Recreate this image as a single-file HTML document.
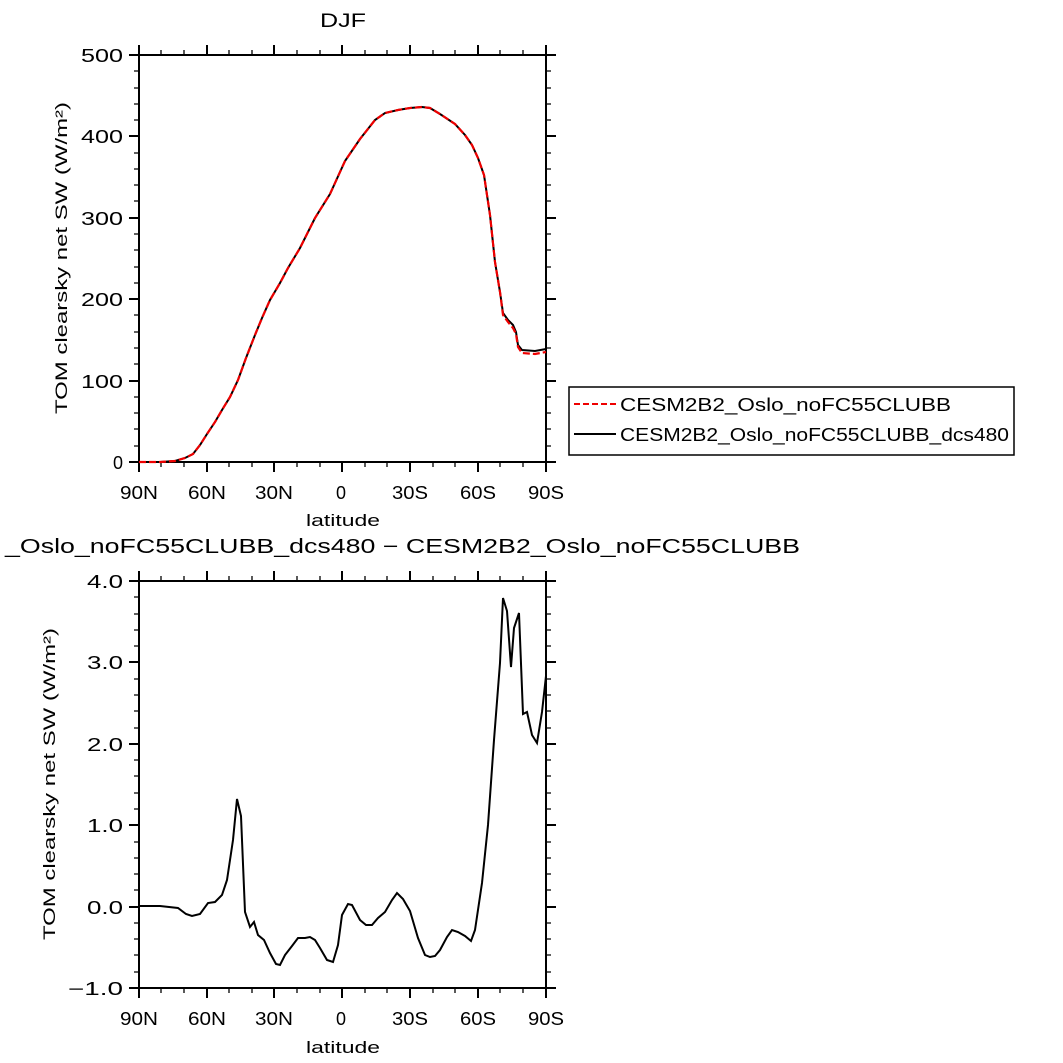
<!DOCTYPE html>
<html><head><meta charset="utf-8"><style>body{margin:0;background:#fff}svg{display:block}text{font-family:"Liberation Sans","DejaVu Sans",sans-serif;fill:#000}</style></head><body>
<svg width="1063" height="1063" viewBox="0 0 1063 1063" xmlns="http://www.w3.org/2000/svg">
<defs>
<g id="xt" stroke="#000" fill="none">
<path stroke-width="2" d="M139,0v10M207,0v10M274,0v10M342,0v10M410,0v10M478,0v10M546,0v10"/>
<path stroke-width="1.3" d="M161,0v5M184,0v5M229,0v5M252,0v5M297,0v5M320,0v5M365,0v5M387,0v5M433,0v5M455,0v5M500,0v5M523,0v5"/>
</g>
</defs>
<text x="320" y="27" font-size="19" textLength="46" lengthAdjust="spacingAndGlyphs">DJF</text>
<rect x="139" y="55" width="407" height="407" fill="none" stroke="#000" stroke-width="2"/>
<use href="#xt" transform="translate(0,462)"/>
<use href="#xt" transform="translate(0,55) scale(1,-1)"/>
<g stroke="#000" stroke-width="2">
<path d="M139,462h-10M139,381h-10M139,299h-10M139,218h-10M139,136h-10M139,55h-10M546,462h10M546,381h10M546,299h10M546,218h10M546,136h10M546,55h10"/>
</g>
<g stroke="#000" stroke-width="1.3">
<path d="M139,446h-5M139,429h-5M139,413h-5M139,397h-5M139,364h-5M139,348h-5M139,332h-5M139,315h-5M139,283h-5M139,267h-5M139,250h-5M139,234h-5M139,201h-5M139,185h-5M139,169h-5M139,153h-5M139,120h-5M139,104h-5M139,88h-5M139,71h-5
M546,446h5M546,429h5M546,413h5M546,397h5M546,364h5M546,348h5M546,332h5M546,315h5M546,283h5M546,267h5M546,250h5M546,234h5M546,201h5M546,185h5M546,169h5M546,153h5M546,120h5M546,104h5M546,88h5M546,71h5"/>
</g>
<g font-size="18" text-anchor="end">
<text x="123" y="469">0</text><text x="123" y="388" textLength="42" lengthAdjust="spacingAndGlyphs">100</text><text x="123" y="306" textLength="42" lengthAdjust="spacingAndGlyphs">200</text><text x="123" y="225" textLength="42" lengthAdjust="spacingAndGlyphs">300</text><text x="123" y="143" textLength="42" lengthAdjust="spacingAndGlyphs">400</text><text x="123" y="62" textLength="42" lengthAdjust="spacingAndGlyphs">500</text>
</g>
<g font-size="18">
<text x="120" y="499" textLength="38" lengthAdjust="spacingAndGlyphs">90N</text><text x="188" y="499" textLength="38" lengthAdjust="spacingAndGlyphs">60N</text><text x="255" y="499" textLength="38" lengthAdjust="spacingAndGlyphs">30N</text><text x="336" y="499">0</text><text x="392" y="499" textLength="36" lengthAdjust="spacingAndGlyphs">30S</text><text x="460" y="499" textLength="36" lengthAdjust="spacingAndGlyphs">60S</text><text x="528" y="499" textLength="36" lengthAdjust="spacingAndGlyphs">90S</text>
</g>
<text x="306" y="526" font-size="17" textLength="74" lengthAdjust="spacingAndGlyphs">latitude</text>
<text transform="translate(67,258) rotate(-90)" font-size="17" text-anchor="middle" textLength="312" lengthAdjust="spacingAndGlyphs">TOM clearsky net SW (W/m²)</text>
<path fill="none" stroke="#000" stroke-width="2" d="M139,462 L160,462 175,461 185,458 193,454 200,445 207,434 215,422 222,410 230,397 238,380 246,358 255,335 262,318 270,300 280,283 288,268 300,248 315,218 330,194 345,161 360,139 375,120 385,113 398,110 410,108 422,107 430,108 440,114 455,124 465,135 472,145 478,158 484,175 490,215 495,262 500,292 503,313 508,320 513,325 516,332 518,345 522,350 535,351 546,349"/>
<path fill="none" stroke="#e00" stroke-width="2.2" stroke-dasharray="7,3" d="M139,462 L160,462 175,461 185,458 193,454 200,445 207,434 215,422 222,410 230,397 238,380 246,358 255,335 262,318 270,300 280,283 288,268 300,248 315,218 330,194 345,161 360,139 375,120 385,113 398,110 410,108 422,107 430,108 440,114 455,124 465,135 472,145 478,158 484,175 490,215 495,262 500,292 503,315 508,322 513,328 516,334 518,347 522,353 535,354 546,352"/>
<rect x="569" y="387" width="445" height="68" fill="#fff" stroke="#000" stroke-width="1.5"/>
<path d="M574,404h42" stroke="#e00" stroke-width="2" stroke-dasharray="6,3"/>
<path d="M574,434h42" stroke="#000" stroke-width="2"/>
<text x="620" y="411" font-size="18" textLength="331" lengthAdjust="spacingAndGlyphs">CESM2B2_Oslo_noFC55CLUBB</text>
<text x="620" y="441" font-size="18" textLength="389" lengthAdjust="spacingAndGlyphs">CESM2B2_Oslo_noFC55CLUBB_dcs480</text>
<text x="5" y="553" font-size="20" textLength="795" lengthAdjust="spacingAndGlyphs">_Oslo_noFC55CLUBB_dcs480 − CESM2B2_Oslo_noFC55CLUBB</text>
<rect x="139" y="581" width="407" height="407" fill="none" stroke="#000" stroke-width="2"/>
<use href="#xt" transform="translate(0,988)"/>
<use href="#xt" transform="translate(0,581) scale(1,-1)"/>
<g stroke="#000" stroke-width="2">
<path d="M139,581h-10M139,662h-10M139,744h-10M139,825h-10M139,907h-10M139,988h-10M546,581h10M546,662h10M546,744h10M546,825h10M546,907h10M546,988h10"/>
</g>
<g stroke="#000" stroke-width="1.3">
<path d="M139,597h-5M139,614h-5M139,630h-5M139,646h-5M139,679h-5M139,695h-5M139,711h-5M139,728h-5M139,760h-5M139,776h-5M139,793h-5M139,809h-5M139,842h-5M139,858h-5M139,874h-5M139,890h-5M139,923h-5M139,939h-5M139,955h-5M139,972h-5
M546,597h5M546,614h5M546,630h5M546,646h5M546,679h5M546,695h5M546,711h5M546,728h5M546,760h5M546,776h5M546,793h5M546,809h5M546,842h5M546,858h5M546,874h5M546,890h5M546,923h5M546,939h5M546,955h5M546,972h5"/>
</g>
<g font-size="18" text-anchor="end">
<text x="123" y="588" textLength="36" lengthAdjust="spacingAndGlyphs">4.0</text><text x="123" y="669" textLength="36" lengthAdjust="spacingAndGlyphs">3.0</text><text x="123" y="751" textLength="36" lengthAdjust="spacingAndGlyphs">2.0</text><text x="123" y="832" textLength="36" lengthAdjust="spacingAndGlyphs">1.0</text><text x="123" y="914" textLength="36" lengthAdjust="spacingAndGlyphs">0.0</text><text x="123" y="995" textLength="55" lengthAdjust="spacingAndGlyphs">−1.0</text>
</g>
<g font-size="18">
<text x="120" y="1025" textLength="38" lengthAdjust="spacingAndGlyphs">90N</text><text x="188" y="1025" textLength="38" lengthAdjust="spacingAndGlyphs">60N</text><text x="255" y="1025" textLength="38" lengthAdjust="spacingAndGlyphs">30N</text><text x="336" y="1025">0</text><text x="392" y="1025" textLength="36" lengthAdjust="spacingAndGlyphs">30S</text><text x="460" y="1025" textLength="36" lengthAdjust="spacingAndGlyphs">60S</text><text x="528" y="1025" textLength="36" lengthAdjust="spacingAndGlyphs">90S</text>
</g>
<text x="306" y="1053" font-size="17" textLength="74" lengthAdjust="spacingAndGlyphs">latitude</text>
<text transform="translate(55,784) rotate(-90)" font-size="17" text-anchor="middle" textLength="312" lengthAdjust="spacingAndGlyphs">TOM clearsky net SW (W/m²)</text>
<path fill="none" stroke="#000" stroke-width="2" d="M139,906 L160,906 178,908 186,914 192,916 200,914 208,903 215,902 222,895 227,880 233,840 237,799 241,816 245,912 250,927 254,922 258,935 264,940 270,953 276,964 280,965 285,955 292,946 298,938 305,938 310,937 315,940 320,948 327,960 333,962 338,945 342,915 348,904 352,905 360,920 366,925 372,925 378,918 385,912 392,900 397,893 403,899 410,911 418,938 425,955 430,957 435,956 440,950 447,937 452,930 458,932 465,936 471,941 475,930 482,883 488,825 494,740 500,663 503,598 507,611 511,667 514,628 519,613 523,714 527,712 532,735 537,743 542,712 546,676"/>
</svg>
</body></html>
